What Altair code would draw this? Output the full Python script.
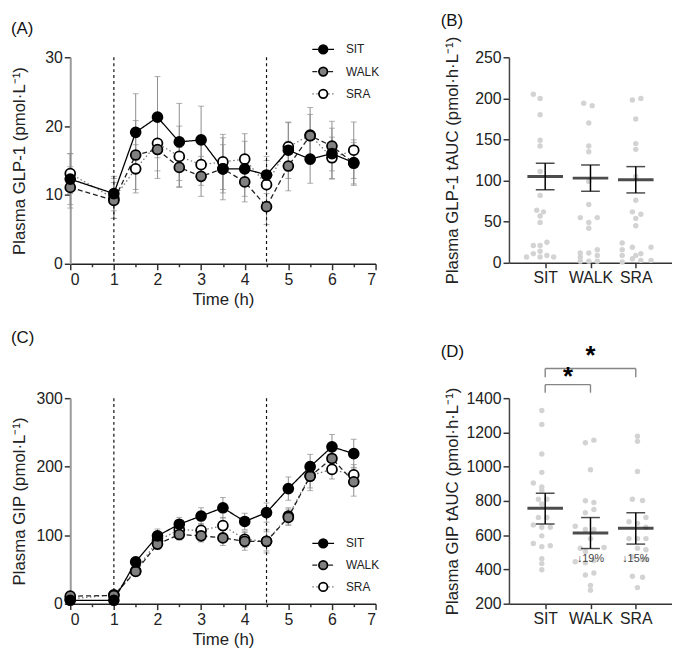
import altair as alt
import pandas as pd

FONT = "Liberation Sans"

# ---------------- data ----------------
groups = ["SIT", "WALK", "SRA"]
times = [0, 1, 1.5, 2, 2.5, 3, 3.5, 4, 4.5, 5, 5.5, 6, 6.5]
exercise_times = [1, 4.5]

# Panel A: plasma GLP-1 (mean, SE)
glp1_sit = [12.3, 10.2, 19.1, 21.3, 17.7, 18.0, 13.8, 13.8, 12.9, 16.5, 15.2, 16.0, 14.7]
glp1_sit_se = [3.7, 2.5, 5.6, 5.9, 5.6, 4.9, 4.5, 4.0, 2.7, 4.1, 3.5, 3.7, 3.3]
glp1_walk = [11.1, 9.2, 15.8, 16.6, 14.0, 12.7, 13.8, 11.9, 8.3, 14.2, 18.6, 17.1, 14.6]
glp1_walk_se = [3.0, 2.6, 5.0, 4.2, 2.9, 2.9, 3.5, 2.9, 2.6, 3.6, 4.1, 3.6, 3.0]
glp1_sra = [13.1, 9.5, 13.8, 17.5, 15.6, 14.4, 14.8, 15.2, 11.5, 17.0, 18.7, 15.4, 16.5]
glp1_sra_se = [2.9, 2.9, 3.5, 4.0, 4.4, 3.0, 4.0, 3.7, 3.5, 3.5, 3.0, 3.0, 4.1]

# Panel C: plasma GIP (mean, SE)
gip_sit = [5, 5, 61, 99, 116, 128, 140, 120, 133, 168, 200, 229, 219]
gip_sit_se = [3, 3, 7, 10, 10, 12, 15, 12, 14, 17, 18, 18, 21]
gip_walk = [11, 12, 47, 87, 101, 99, 96, 91, 91, 126, 186, 212, 178]
gip_walk_se = [4, 4, 6, 8, 8, 9, 11, 13, 17, 12, 21, 18, 21]
gip_sra = [7, 13, 48, 92, 108, 107, 114, 94, 91, 128, 187, 196, 188]
gip_sra_se = [3, 4, 6, 9, 9, 10, 12, 12, 14, 12, 18, 14, 15]

# Panel B: GLP-1 tAUC individual values (value, jitter slot)
aucb_sit = [205, 200, 180, 149, 142, 111, 82, 64, 62, 57, 49, 25, 21, 21, 14, 11, 9, 7, 7, 7]
aucb_sit_slot = [-3.5, -1.5, -1.5, -1.5, -1.5, -1.5, -1.5, -2.5, -0.5, -1.5, -1.5, 0.5, -3.5, -1.5, -1.5, -3.5, 0.5, -5.5, -1.5, 2.5]
aucb_walk = [194, 191, 170, 142, 135, 99, 71, 55, 55, 49, 42, 12, 12, 16, 7, 9, 2, 2, 2]
aucb_walk_slot = [-2, 0.5, -0.5, -0.5, -0.5, -0.5, -0.5, -3, 2, -0.5, -0.5, -3, -0.5, 2, -3, 2, -3, -0.5, 2]
aucb_sra = [198, 200, 175, 145, 138, 105, 76, 62, 59, 54, 45, 24, 16, 19, 19, 9, 9, 11, 1, 5, 3, 3]
aucb_sra_slot = [-1, 1.5, 0, 0, 0, 0, 0, -1, 1.5, 0, 0, -4, -4, -1, 4.5, -4, 0, 1.5, -4, -1, 1.5, 4.5]
aucb_mean = [105, 103, 101]
aucb_lo = [89, 87, 85]
aucb_hi = [121, 119, 117]

# Panel D: GIP tAUC individual values (value, jitter slot)
aucd_sit = [1328, 1247, 1074, 967, 905, 882, 863, 810, 810, 782, 703, 703, 660, 646, 646, 596, 552, 533, 539, 462, 434, 398]
aucd_sit_slot = [-1, -1, -1, -1, -3.5, -1, -1, -2, 0.5, -1, -2, 0.5, -3.5, -1, 1.5, -1, -3.5, -1, 1.5, -1, -1, -1]
aucd_walk = [1140, 1155, 982, 801, 791, 731, 750, 652, 633, 633, 580, 524, 528, 445, 439, 452, 368, 379, 307, 279, 505]
aucd_walk_slot = [-1.5, 1, 0, -1.5, 1, -1.5, 1, -4.5, -1.5, 1, 0, -3, 4, -4.5, -1.5, 1, -1.5, 1, 0, 0, -1.5]
aucd_sra = [1178, 1148, 972, 810, 803, 703, 678, 669, 646, 580, 580, 580, 524, 473, 515, 458, 458, 360, 354, 294]
aucd_sra_slot = [0.5, 0.5, 0.5, -1, 2, 3, -2, 0.5, 3, -2, 0.5, 3, 0.5, -1, 3, 2, 3, -1, 2, 0.5]
aucd_mean = [757, 613, 641]
aucd_lo = [666, 522, 548]
aucd_hi = [845, 703, 731]

# Panel D annotations
pct_groups = ["WALK", "SRA"]
pct_labels = ["↓19%", "↓15%"]
pct_y = [460, 460]
bracket_from = ["SIT", "SIT"]
bracket_to = ["WALK", "SRA"]
bracket_low = [1432, 1522]
bracket_high = [1479, 1573]
star_y = [1523, 1647]

# ---------------- styles ----------------
fill_scale = alt.Scale(domain=groups, range=["#000000", "#808080", "#ffffff"])
line_color_scale = alt.Scale(domain=groups, range=["#000000", "#222222", "#777777"])
dash_scale = alt.Scale(domain=groups, range=[[1, 0], [5, 3], [1.5, 2.5]])

AX = dict(labelFont=FONT, titleFont=FONT, labelFontSize=16, titleFontSize=17,
          labelColor="#222222", titleColor="#222222",
          tickColor="#333333", domainWidth=1.5, tickWidth=1.5,
          labelPadding=2, grid=False, titleFontWeight="normal", labelOverlap=False)


def time_df(vals, ses):
    rows = []
    for g in ["SRA", "WALK", "SIT"]:
        for t, v, s in zip(times, vals[g], ses[g]):
            rows.append({"time": t, "group": g, "value": v, "lo": v - s, "hi": v + s})
    return pd.DataFrame(rows)


def time_panel(df, ymax, yvals, ytitle, letter, leg_range, title_offset, w, h):
    xax = alt.Axis(title="Time (h)", values=[i * 0.5 for i in range(15)],
                   labelExpr="datum.value % 1 == 0 ? format(datum.value, 'd') : ''",
                   tickSize={"condition": {"test": "datum.value % 1 != 0", "value": 3}, "value": 6},
                   titlePadding=4, domainColor="#222222", **AX)
    xs = alt.Scale(domain=[0, 7], nice=False)
    ys = alt.Scale(domain=[0, ymax], nice=False)
    yax = alt.Axis(values=yvals, format="d", minExtent=38, maxExtent=38, titlePadding=4, tickSize=6,
                   domainColor="#9a9a9a", domainWidth=2, **{k: v for k, v in AX.items() if k != "domainWidth"})
    X = alt.X("time:Q", scale=xs, axis=xax)

    def Y(f):
        return alt.Y(f, scale=ys, axis=yax, title=ytitle)

    base = alt.Chart(df)
    err = base.mark_rule(color="#8c8c8c", strokeWidth=1).encode(x=X, y=Y("lo:Q"), y2="hi:Q")
    cap_lo = base.mark_tick(orient="horizontal", size=6, thickness=1, color="#8c8c8c").encode(x=X, y=Y("lo:Q"))
    cap_hi = base.mark_tick(orient="horizontal", size=6, thickness=1, color="#8c8c8c").encode(x=X, y=Y("hi:Q"))
    vlines = alt.Chart(pd.DataFrame({"t": exercise_times})).mark_rule(
        strokeDash=[3, 3], color="#111111", strokeWidth=1.2).encode(x=alt.X("t:Q", scale=xs, axis=xax))
    lines = base.mark_line(strokeWidth=1.3).encode(
        x=X, y=Y("value:Q"),
        color=alt.Color("group:N", scale=line_color_scale, legend=None),
        strokeDash=alt.StrokeDash("group:N", scale=dash_scale, legend=None))
    pts = base.mark_circle(size=100, stroke="#000000", strokeWidth=1.8, opacity=1).encode(
        x=X, y=Y("value:Q"), fill=alt.Fill("group:N", scale=fill_scale, legend=None))
    main = alt.layer(err, cap_lo, cap_hi, vlines, lines, pts)

    leg_df = pd.DataFrame({"group": groups})
    ly = alt.Y("group:N", scale=alt.Scale(type="point", domain=groups, range=leg_range, padding=0), axis=None)
    lb = alt.Chart(leg_df)
    leg_line = lb.mark_rule(strokeWidth=1.3).encode(
        x=alt.value(245), x2=alt.value(267), y=ly,
        color=alt.Color("group:N", scale=line_color_scale, legend=None),
        strokeDash=alt.StrokeDash("group:N", scale=dash_scale, legend=None))
    leg_pt = lb.mark_circle(size=75, stroke="#000000", strokeWidth=1.8, opacity=1).encode(
        x=alt.value(256), y=ly, fill=alt.Fill("group:N", scale=fill_scale, legend=None))
    leg_txt = lb.mark_text(align="left", baseline="middle", fontSize=12, font=FONT, color="#222222").encode(
        x=alt.value(279), y=ly, text="group:N")
    legend = alt.layer(leg_line, leg_pt, leg_txt)

    return alt.layer(main, legend).resolve_scale(y="independent").properties(
        width=w, height=h,
        title=alt.Title(letter, anchor="start", frame="group", dx=-60, offset=title_offset,
                        fontSize=17, fontWeight="normal", font=FONT, color="#111111"))


def cat_scale():
    return alt.Scale(type="point", domain=groups, padding=0.8)


def dot_panel(vals, slots, means, los, his, ydom, yvals, ytitle, letter, title_offset, w, h, extra=None, dx_title=-69):
    rows = []
    for g in groups:
        for v, s in zip(vals[g], slots[g]):
            rows.append({"group": g, "value": v, "slot": s})
    pdf = pd.DataFrame(rows)
    sdf = pd.DataFrame({"group": groups, "mean": means, "lo": los, "hi": his})
    xax = alt.Axis(title=None, labelAngle=0, tickSize=5, domainColor="#333333", **AX)
    X = alt.X("group:N", scale=cat_scale(), axis=xax)
    ys = alt.Scale(domain=ydom, nice=False)
    yax = alt.Axis(values=yvals, format="d", minExtent=44, maxExtent=44, titlePadding=4, tickSize=6,
                   domainColor="#444444", **AX)

    def Y(f):
        return alt.Y(f, scale=ys, axis=yax, title=ytitle)

    def XC(f):
        return alt.X(f, scale=cat_scale(), axis=xax)

    dots = alt.Chart(pdf).mark_circle(size=30, color="#d3d3d3", opacity=1).encode(
        x=X, xOffset=alt.XOffset("slot:Q", scale=alt.Scale(domain=[-6, 6], range=[-20.6, 20.6])),
        y=Y("value:Q"))
    sb = alt.Chart(sdf)
    mean = sb.mark_tick(size=36, thickness=3, color="#000000").encode(x=X, y=Y("mean:Q"))
    err = sb.mark_rule(strokeWidth=1.5, color="#000000").encode(x=X, y=Y("lo:Q"), y2="hi:Q")
    cap_lo = sb.mark_tick(size=19, thickness=1.5, color="#000000").encode(x=X, y=Y("lo:Q"))
    cap_hi = sb.mark_tick(size=19, thickness=1.5, color="#000000").encode(x=X, y=Y("hi:Q"))
    layers = [dots, mean, err, cap_lo, cap_hi]
    if extra is not None:
        layers += extra(Y, XC)
    return alt.layer(*layers).properties(
        width=w, height=h,
        title=alt.Title(letter, anchor="start", frame="group", dx=dx_title, offset=title_offset,
                        fontSize=17, fontWeight="normal", font=FONT, color="#111111"))


def d_extras(Y, XC):
    pct = alt.Chart(pd.DataFrame({"group": pct_groups, "y": pct_y, "label": pct_labels})).mark_text(
        fontSize=11, font=FONT, color="#444444", baseline="middle").encode(
        x=XC("group:N"), y=Y("y:Q"), text="label:N")
    br = pd.DataFrame({"a": bracket_from, "b": bracket_to, "lo": bracket_low, "hi": bracket_high, "star": star_y})
    legs = pd.DataFrame({
        "group": bracket_from + bracket_to,
        "lo": bracket_low + bracket_low,
        "hi": bracket_high + bracket_high,
    })
    hor = alt.Chart(br).mark_rule(color="#858585", strokeWidth=1.4).encode(
        x=XC("a:N"), x2="b:N", y=Y("hi:Q"))
    leg = alt.Chart(legs).mark_rule(color="#858585", strokeWidth=1.4).encode(
        x=XC("group:N"), y=Y("lo:Q"), y2="hi:Q")
    star1 = alt.Chart(br.iloc[[0]]).mark_text(text="*", fontSize=26, fontWeight="bold", font=FONT,
                                              color="#000000", dx=23, baseline="middle").encode(
        x=XC("a:N"), y=Y("star:Q"))
    mid = pd.DataFrame({"group": ["WALK"], "star": [star_y[1]]})
    star2 = alt.Chart(mid).mark_text(text="*", fontSize=26, fontWeight="bold", font=FONT,
                                     color="#000000", baseline="middle").encode(
        x=XC("group:N"), y=Y("star:Q"))
    return [pct, hor, leg, star1, star2]


dfA = time_df({"SIT": glp1_sit, "WALK": glp1_walk, "SRA": glp1_sra},
              {"SIT": glp1_sit_se, "WALK": glp1_walk_se, "SRA": glp1_sra_se})
dfC = time_df({"SIT": gip_sit, "WALK": gip_walk, "SRA": gip_sra},
              {"SIT": gip_sit_se, "WALK": gip_walk_se, "SRA": gip_sra_se})

A = time_panel(dfA, 30, [0, 10, 20, 30], "Plasma GLP-1 (pmol·L⁻¹)", "(A)", [-8, 37], 4, 309, 209)
C = time_panel(dfC, 300, [0, 100, 200, 300], "Plasma GIP (pmol·L⁻¹)", "(C)", [147, 191], 44, 309, 208)
B = dot_panel({"SIT": aucb_sit, "WALK": aucb_walk, "SRA": aucb_sra},
              {"SIT": aucb_sit_slot, "WALK": aucb_walk_slot, "SRA": aucb_sra_slot},
              aucb_mean, aucb_lo, aucb_hi, [0, 250], [0, 50, 100, 150, 200, 250],
              "Plasma GLP-1 tAUC (pmol·h·L⁻¹)", "(B)", 6, 165, 208)
D = dot_panel({"SIT": aucd_sit, "WALK": aucd_walk, "SRA": aucd_sra},
              {"SIT": aucd_sit_slot, "WALK": aucd_walk_slot, "SRA": aucd_sra_slot},
              aucd_mean, aucd_lo, aucd_hi, [200, 1400], [200, 400, 600, 800, 1000, 1200, 1400],
              "Plasma GIP tAUC (pmol·h·L⁻¹)", "(D)", -18, 165, 208, extra=d_extras)

chart = alt.ConcatChart(concat=[A, B, C, D], columns=2, align="each", bounds="full",
                        spacing={"row": 22, "column": 62}).properties(
    padding={"left": 3, "top": 0, "right": 0, "bottom": 0}
).configure(font=FONT).configure_view(stroke=None)

chart.save("out.html", embed_options={"renderer": "svg", "actions": False})
